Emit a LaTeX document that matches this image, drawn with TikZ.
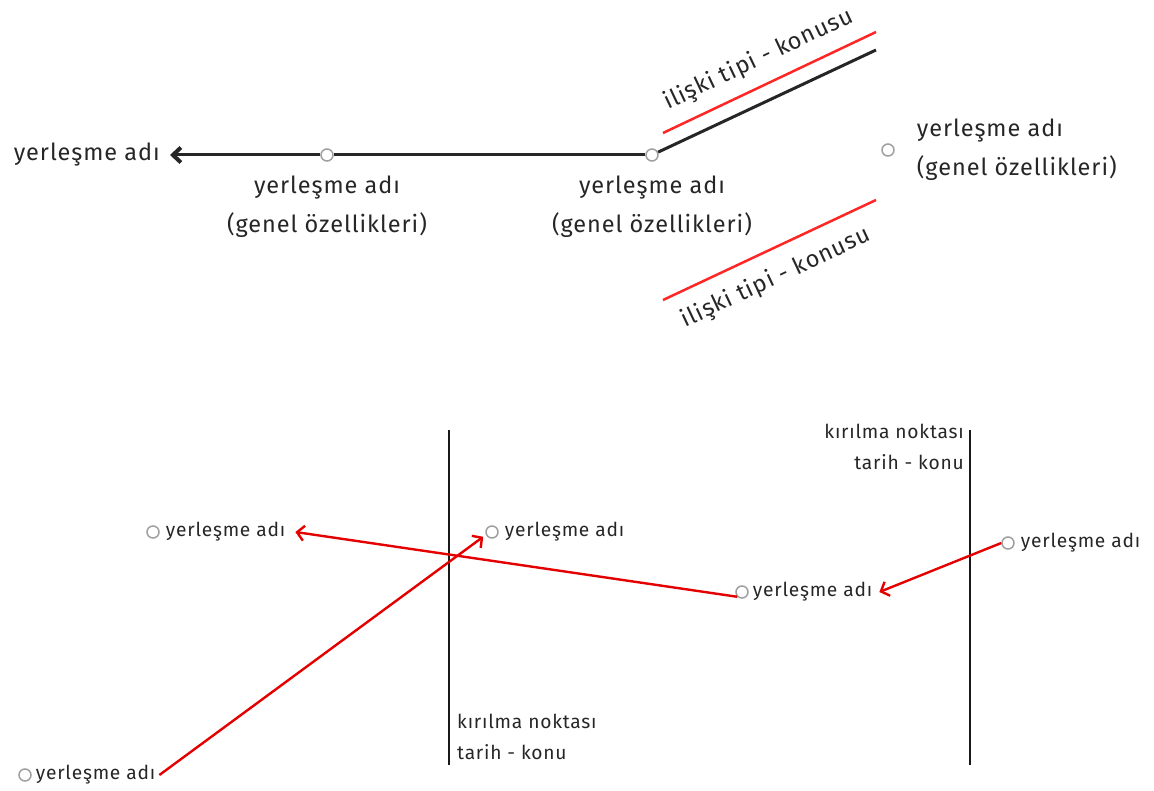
\documentclass[tikz,border=0pt]{standalone}
\usepackage{fontspec}
\setmainfont[LetterSpace=4]{Fira Sans}
\usetikzlibrary{positioning,arrows.meta}

\begin{document}
\begin{tikzpicture}[x=1pt,y=-1pt,
    stop/.style={circle,draw=gray!75,line width=1.5pt,minimum size=12pt,inner sep=0pt},
    big/.style={font=\fontsize{23.5}{39}\selectfont,inner sep=0pt,text=black!85},
    small/.style={font=\fontsize{19.2}{31}\selectfont,inner sep=0pt,text=black!85},
    road/.style={line width=3pt,black!85},
    wall/.style={line width=2.5pt,black!90},
    rel/.style={line width=2.5pt,red!85},
    link/.style={line width=2.4pt,red!90!black,-{Straight Barb[length=7pt,width=15pt]}}]
    \useasboundingbox (0,0) rectangle (1154,791);

    % upper part: a chain of places
    \node [stop] (s1) at (327,155) {};
    \node [stop] (s2) at (652,155) {};
    \node [stop] (s3) at (888,150) {};
    \node [big,anchor=east] (start) at (160,155) {yerleşme adı};
    \coordinate (tip) at (170,155);
    \coordinate (end) at (876,50);
    \node [big,align=center,below=14pt of s1] (s1l) {yerleşme adı\\(genel özellikleri)};
    \node [big,align=center,below=14pt of s2] (s2l) {yerleşme adı\\(genel özellikleri)};
    \node [big,align=left,right=22pt of s3] (s3l) {yerleşme adı\\(genel özellikleri)};

    \draw [road,-{Straight Barb[length=8pt,width=15pt,line width=4pt]}] (s1) -- (tip);
    \draw [road] (s1) -- (s2);
    \draw [road] (s2) -- (end);

    \coordinate (r1a) at (663,133);
    \coordinate (r1b) at (876,32);
    \coordinate (r2a) at (663,300);
    \coordinate (r2b) at (876,200);
    \draw [rel] (r1a) -- (r1b) node [big,midway,sloped,above=12pt] (t1) {ilişki tipi - konusu};
    \draw [rel] (r2a) -- (r2b) node [big,midway,sloped,below=15pt,xshift=-6pt] (t2) {ilişki tipi - konusu};

    % lower part: break points
    \coordinate (k1t) at (449,430);
    \coordinate (k1b) at (449,765);
    \coordinate (k2t) at (970,430);
    \coordinate (k2b) at (970,765);
    \draw [wall] (k1t) -- (k1b);
    \draw [wall] (k2t) -- (k2b);
    \node [small,anchor=north west,align=left] (k1l) at (457,714) {kırılma noktası\\tarih - konu};
    \node [small,anchor=north east,align=right] (k2l) at (964,424) {kırılma noktası\\tarih - konu};

    \node [stop] (p1) at (153,532) {};
    \node [stop] (p2) at (492,532) {};
    \node [stop] (p3) at (742,592) {};
    \node [stop] (p4) at (1008,543) {};
    \node [stop] (p5) at (25,775) {};
    \node [small,right=6pt of p1] (l1) {yerleşme adı};
    \node [small,right=6pt of p2] (l2) {yerleşme adı};
    \node [small,right=4pt of p3] (l3) {yerleşme adı};
    \node [small,right=6pt of p4] (l4) {yerleşme adı};
    \node [small,right=4pt of p5] (l5) {yerleşme adı};

    \draw [link] (p3.south west) -- ([xshift=10pt]l1.east);
    \draw [link] ([xshift=4pt]l5.east) -- ([xshift=-4pt]p2.south west);
    \draw [link] (p4.west) -- ([xshift=7pt]l3.east);
\end{tikzpicture}
\end{document}
